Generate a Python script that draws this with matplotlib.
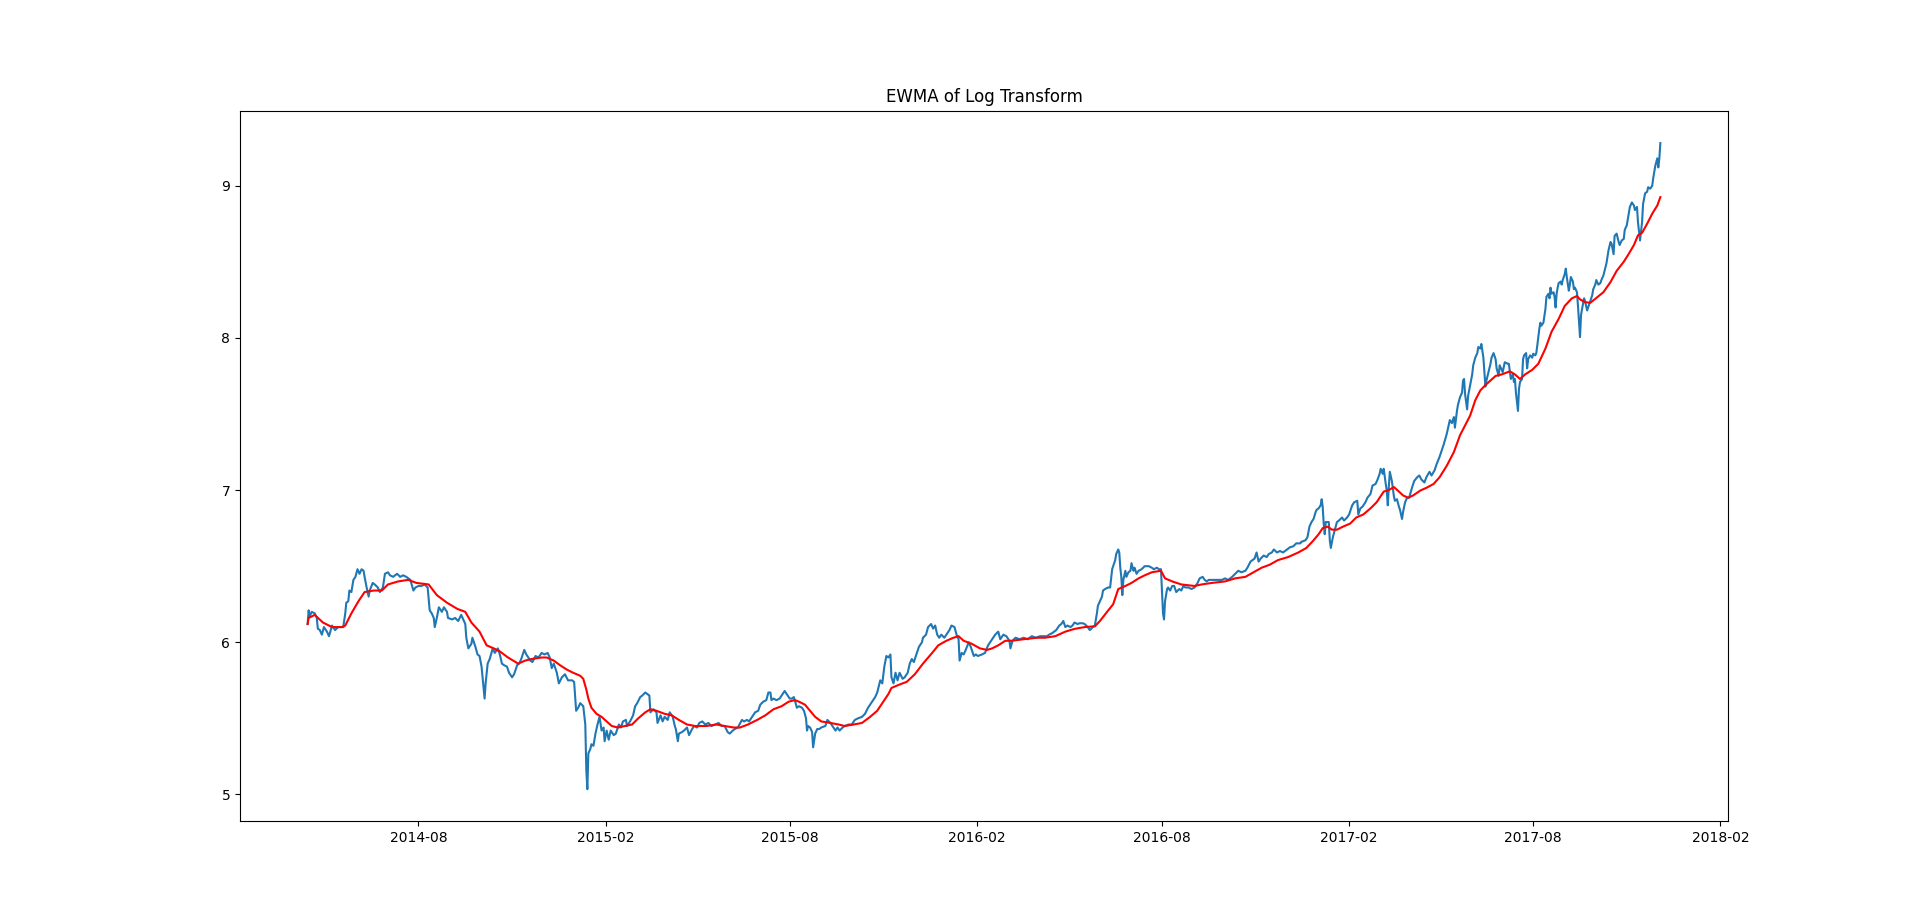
import pandas as pd
import matplotlib
matplotlib.use('Agg')
import matplotlib.pyplot as plt
import matplotlib.dates as mdates


# days counted from 2014-08-01
base_date = '2014-08-01'

price_days = [
    -109, -108, -107, -105, -102, -100, -99, -97, -95, -93, -90, -88, -85, -82, -79, -74,
    -72, -71, -69, -68, -66, -64, -62, -60, -58, -56, -54, -53, -51, -49, -48, -45,
    -43, -40, -38, -35, -33, -30, -28, -25, -21, -18, -15, -12, -8, -5, -3, 0,
    3, 6, 9, 11, 13, 15, 16, 18, 20, 23, 25, 28, 29, 33, 36, 39,
    42, 46, 47, 49, 52, 53, 56, 58, 60, 62, 64, 65, 66, 68, 70, 73,
    75, 78, 80, 82, 84, 87, 89, 92, 94, 97, 99, 101, 104, 106, 110, 112,
    115, 118, 121, 124, 127, 129, 131, 133, 136, 138, 141, 144, 147, 151, 153, 155,
    157, 159, 162, 164, 165, 166, 167, 169, 170, 172, 174, 176, 178, 180, 182, 183,
    185, 187, 189, 192, 194, 197, 199, 201, 204, 205, 208, 211, 213, 215, 218, 220,
    223, 225, 227, 228, 231, 234, 235, 238, 240, 242, 245, 247, 250, 252, 253, 255,
    256, 259, 261, 264, 266, 269, 271, 274, 276, 279, 282, 285, 288, 292, 295, 298,
    301, 304, 306, 309, 311, 314, 318, 320, 323, 325, 328, 331, 334, 336, 339, 342,
    344, 346, 347, 349, 352, 355, 358, 360, 363, 365, 367, 369, 370, 372, 374, 377,
    379, 381, 382, 383, 385, 387, 388, 390, 392, 394, 396, 400, 402, 405, 407, 410,
    412, 414, 417, 419, 423, 426, 429, 432, 436, 439, 442, 446, 449, 451, 454, 456,
    458, 460, 462, 464, 465, 467, 469, 471, 473, 476, 478, 481, 483, 485, 487, 490,
    492, 495, 496, 499, 501, 504, 506, 508, 510, 512, 514, 517, 519, 522, 524, 527,
    529, 531, 532, 534, 536, 538, 541, 543, 546, 548, 550, 554, 557, 560, 564, 567,
    570, 572, 575, 578, 581, 582, 584, 587, 591, 595, 599, 603, 607, 611, 616, 618,
    620, 623, 625, 627, 630, 632, 634, 636, 638, 641, 643, 645, 648, 650, 653, 655,
    658, 660, 663, 665, 667, 668, 670, 672, 673, 675, 678, 680, 682, 683, 685, 686,
    688, 689, 690, 691, 692, 693, 695, 696, 698, 700, 701, 703, 704, 706, 708, 711,
    714, 716, 718, 721, 723, 726, 728, 730, 731, 732, 733, 734, 736, 737, 739, 741,
    743, 745, 748, 750, 752, 754, 757, 760, 763, 766, 768, 771, 773, 775, 777, 780,
    783, 786, 790, 793, 796, 800, 803, 806, 809, 813, 815, 818, 820, 822, 824, 826,
    828, 831, 834, 836, 839, 841, 844, 847, 850, 854, 857, 860, 863, 867, 868, 872,
    874, 876, 878, 880, 882, 883, 885, 887, 888, 889, 890, 891, 892, 895, 896, 897,
    899, 901, 903, 905, 908, 910, 913, 915, 918, 920, 923, 924, 926, 928, 931, 933,
    936, 938, 941, 943, 945, 946, 948, 949, 951, 952, 953, 954, 955, 957, 959, 960,
    962, 964, 965, 967, 968, 970, 972, 974, 977, 979, 982, 984, 986, 989, 991, 994,
    996, 999, 1001, 1004, 1006, 1008, 1011, 1014, 1016, 1018, 1019, 1021, 1022, 1024, 1026, 1027,
    1028, 1029, 1031, 1032, 1034, 1036, 1037, 1039, 1041, 1042, 1044, 1045, 1047, 1049, 1050, 1052,
    1054, 1055, 1057, 1059, 1060, 1062, 1063, 1066, 1068, 1071, 1072, 1074, 1076, 1077, 1078, 1079,
    1081, 1082, 1083, 1085, 1086, 1087, 1089, 1090, 1091, 1093, 1095, 1096, 1098, 1099, 1100, 1102,
    1103, 1104, 1106, 1108, 1109, 1111, 1112, 1113, 1114, 1116, 1117, 1118, 1119, 1120, 1121, 1123,
    1124, 1125, 1127, 1128, 1129, 1131, 1132, 1133, 1135, 1136, 1137, 1139, 1140, 1142, 1143, 1144,
    1146, 1147, 1149, 1150, 1152, 1154, 1155, 1157, 1158, 1160, 1162, 1163, 1165, 1167, 1168, 1170,
    1172, 1173, 1175, 1176, 1178, 1180, 1181, 1183, 1185, 1186, 1188, 1190, 1191, 1193, 1195, 1196,
    1198, 1199, 1201, 1203, 1204, 1206, 1208, 1209, 1211, 1213, 1214, 1216, 1218, 1219, 1220, 1221,
]

log_price = [
    6.12, 6.21, 6.17, 6.20, 6.19, 6.16, 6.09, 6.08, 6.05, 6.10, 6.07, 6.04, 6.11, 6.08, 6.10, 6.10,
    6.19, 6.26, 6.27, 6.34, 6.33, 6.41, 6.43, 6.48, 6.45, 6.48, 6.47, 6.43, 6.36, 6.30, 6.34, 6.39,
    6.38, 6.36, 6.33, 6.36, 6.45, 6.46, 6.44, 6.43, 6.45, 6.43, 6.44, 6.43, 6.41, 6.34, 6.36, 6.37,
    6.37, 6.38, 6.36, 6.21, 6.19, 6.16, 6.10, 6.16, 6.23, 6.20, 6.23, 6.20, 6.16, 6.15, 6.16, 6.14,
    6.18, 6.12, 6.03, 5.96, 5.99, 6.03, 5.97, 5.92, 5.91, 5.84, 5.70, 5.63, 5.73, 5.86, 5.89, 5.96,
    5.93, 5.96, 5.92, 5.86, 5.85, 5.84, 5.80, 5.77, 5.79, 5.85, 5.86, 5.89, 5.95, 5.92, 5.88, 5.87,
    5.91, 5.90, 5.93, 5.92, 5.93, 5.90, 5.83, 5.86, 5.80, 5.73, 5.77, 5.79, 5.75, 5.75, 5.74, 5.55,
    5.57, 5.60, 5.58, 5.46, 5.16, 5.035, 5.27, 5.30, 5.33, 5.32, 5.40, 5.46, 5.51, 5.42, 5.44, 5.35,
    5.42, 5.36, 5.42, 5.39, 5.40, 5.46, 5.44, 5.48, 5.49, 5.45, 5.48, 5.52, 5.58, 5.60, 5.64, 5.65,
    5.67, 5.66, 5.65, 5.54, 5.56, 5.54, 5.47, 5.52, 5.48, 5.51, 5.49, 5.54, 5.51, 5.45, 5.43, 5.35,
    5.40, 5.41, 5.42, 5.44, 5.39, 5.43, 5.45, 5.44, 5.47, 5.48, 5.46, 5.47, 5.45, 5.46, 5.47, 5.45,
    5.45, 5.41, 5.40, 5.42, 5.43, 5.44, 5.49, 5.48, 5.49, 5.48, 5.51, 5.54, 5.55, 5.59, 5.61, 5.62,
    5.67, 5.67, 5.62, 5.63, 5.62, 5.63, 5.66, 5.68, 5.65, 5.63, 5.63, 5.64, 5.62, 5.57, 5.58, 5.57,
    5.55, 5.50, 5.42, 5.45, 5.44, 5.41, 5.31, 5.40, 5.43, 5.43, 5.44, 5.45, 5.49, 5.47, 5.45, 5.42,
    5.44, 5.42, 5.44, 5.45, 5.46, 5.46, 5.49, 5.50, 5.51, 5.53, 5.57, 5.61, 5.64, 5.67, 5.75, 5.73,
    5.84, 5.91, 5.90, 5.92, 5.77, 5.73, 5.80, 5.75, 5.80, 5.76, 5.77, 5.80, 5.86, 5.89, 5.87, 5.93,
    5.97, 6.00, 6.03, 6.05, 6.10, 6.12, 6.09, 6.11, 6.05, 6.03, 6.05, 6.03, 6.05, 6.08, 6.11, 6.10,
    6.05, 6.02, 5.88, 5.93, 5.92, 5.95, 6.00, 5.97, 5.91, 5.92, 5.91, 5.92, 5.93, 5.98, 6.02, 6.05,
    6.07, 6.02, 6.05, 6.04, 6.01, 5.96, 6.01, 6.03, 6.02, 6.03, 6.02, 6.04, 6.03, 6.04, 6.04, 6.04,
    6.05, 6.06, 6.07, 6.08, 6.11, 6.12, 6.14, 6.10, 6.11, 6.10, 6.11, 6.13, 6.12, 6.125, 6.125, 6.12,
    6.10, 6.08, 6.10, 6.11, 6.19, 6.24, 6.27, 6.30, 6.34, 6.35, 6.36, 6.36, 6.48, 6.50, 6.54, 6.58,
    6.61, 6.59, 6.49, 6.43, 6.31, 6.41, 6.47, 6.43, 6.46, 6.47, 6.52, 6.47, 6.49, 6.45, 6.47, 6.48,
    6.50, 6.50, 6.50, 6.49, 6.48, 6.49, 6.48, 6.48, 6.34, 6.19, 6.15, 6.27, 6.35, 6.36, 6.34, 6.37,
    6.37, 6.33, 6.35, 6.34, 6.37, 6.36, 6.36, 6.35, 6.36, 6.39, 6.42, 6.43, 6.41, 6.40, 6.41, 6.41,
    6.41, 6.41, 6.41, 6.42, 6.41, 6.43, 6.45, 6.47, 6.46, 6.47, 6.49, 6.53, 6.54, 6.55, 6.59, 6.53,
    6.55, 6.57, 6.56, 6.58, 6.59, 6.61, 6.59, 6.60, 6.59, 6.61, 6.625, 6.63, 6.65, 6.65, 6.66, 6.67,
    6.69, 6.76, 6.79, 6.81, 6.855, 6.87, 6.88, 6.90, 6.94, 6.89, 6.78, 6.71, 6.79, 6.79, 6.67, 6.62,
    6.69, 6.74, 6.79, 6.80, 6.82, 6.80, 6.82, 6.84, 6.90, 6.92, 6.93, 6.84, 6.88, 6.89, 6.92, 6.95,
    6.975, 7.03, 7.04, 7.07, 7.107, 7.14, 7.107, 7.14, 7.04, 6.997, 6.90, 7.02, 7.12, 7.06, 6.96, 6.93,
    6.94, 6.89, 6.87, 6.81, 6.855, 6.92, 6.95, 6.95, 7.02, 7.06, 7.085, 7.096, 7.07, 7.05, 7.085, 7.12,
    7.096, 7.13, 7.17, 7.22, 7.26, 7.30, 7.37, 7.46, 7.44, 7.48, 7.41, 7.52, 7.56, 7.61, 7.64, 7.72,
    7.73, 7.63, 7.53, 7.62, 7.69, 7.76, 7.82, 7.87, 7.90, 7.94, 7.93, 7.96, 7.87, 7.68, 7.72, 7.775,
    7.83, 7.87, 7.90, 7.86, 7.80, 7.75, 7.82, 7.775, 7.84, 7.83, 7.83, 7.73, 7.76, 7.71, 7.73, 7.64,
    7.52, 7.665, 7.71, 7.73, 7.86, 7.885, 7.90, 7.80, 7.86, 7.885, 7.87, 7.896, 7.885, 7.90, 7.95, 8.06,
    8.10, 8.08, 8.10, 8.19, 8.27, 8.29, 8.26, 8.33, 8.29, 8.30, 8.27, 8.20, 8.29, 8.33, 8.36, 8.37,
    8.35, 8.38, 8.42, 8.455, 8.40, 8.31, 8.35, 8.40, 8.37, 8.32, 8.33, 8.30, 8.21, 8.005, 8.15, 8.19,
    8.26, 8.24, 8.18, 8.20, 8.24, 8.28, 8.32, 8.35, 8.38, 8.35, 8.36, 8.38, 8.41, 8.465, 8.49, 8.575,
    8.63, 8.62, 8.55, 8.67, 8.685, 8.63, 8.61, 8.64, 8.65, 8.71, 8.74, 8.82, 8.86, 8.89, 8.87, 8.84,
    8.86, 8.76, 8.64, 8.76, 8.88, 8.95, 8.96, 8.99, 8.98, 9.00, 9.05, 9.13, 9.18, 9.12, 9.18, 9.28,
]

ewma_days = [
    -109, -108, -102, -94, -85, -75, -72, -66, -59, -53, -44, -36, -30, -20, -10, -2,
    10, 18, 28, 38, 46, 52, 60, 67, 74, 80, 88, 98, 105, 111, 121, 126,
    133, 139, 146, 152, 159, 162, 165, 167, 170, 175, 180, 185, 190, 196, 203, 210,
    216, 223, 228, 234, 242, 249, 256, 264, 272, 283, 293, 301, 310, 316, 324, 333,
    341, 349, 357, 364, 370, 374, 380, 385, 390, 396, 405, 413, 419, 428, 436, 444,
    451, 457, 462, 465, 472, 480, 488, 496, 505, 511, 519, 526, 531, 536, 544, 552,
    559, 564, 570, 577, 583, 595, 608, 616, 626, 636, 645, 655, 665, 670, 677, 683,
    688, 695, 701, 708, 714, 721, 730, 734, 741, 750, 763, 770, 780, 793, 803, 813,
    821, 829, 837, 845, 855, 865, 873, 880, 885, 889, 894, 898, 903, 909, 916, 922,
    929, 936, 942, 949, 954, 959, 964, 968, 973, 978, 985, 991, 998, 1004, 1011, 1018,
    1024, 1029, 1034, 1039, 1044, 1049, 1054, 1059, 1065, 1073, 1078, 1083, 1088, 1095, 1101, 1108,
    1114, 1121, 1127, 1134, 1139, 1142, 1147, 1152, 1157, 1165, 1172, 1178, 1185, 1190, 1195, 1199,
    1203, 1208, 1213, 1218, 1221,
]

ewma_log_price = [
    6.12, 6.16, 6.18, 6.13, 6.10, 6.10, 6.11, 6.19, 6.27, 6.33, 6.34, 6.34, 6.38, 6.40, 6.41, 6.39,
    6.38, 6.31, 6.26, 6.22, 6.20, 6.13, 6.07, 5.98, 5.96, 5.94, 5.90, 5.86, 5.88, 5.89, 5.90, 5.90,
    5.88, 5.85, 5.82, 5.80, 5.78, 5.76, 5.69, 5.63, 5.57, 5.53, 5.51, 5.48, 5.45, 5.44, 5.45, 5.46,
    5.50, 5.54, 5.56, 5.55, 5.53, 5.52, 5.49, 5.46, 5.45, 5.45, 5.46, 5.45, 5.44, 5.44, 5.46, 5.49,
    5.52, 5.56, 5.58, 5.61, 5.62, 5.61, 5.59, 5.55, 5.51, 5.48, 5.47, 5.46, 5.45, 5.46, 5.47, 5.51,
    5.55, 5.61, 5.66, 5.70, 5.72, 5.74, 5.79, 5.86, 5.93, 5.98, 6.01, 6.03, 6.04, 6.01, 5.99, 5.96,
    5.95, 5.96, 5.98, 6.01, 6.01, 6.02, 6.03, 6.03, 6.04, 6.07, 6.088, 6.10, 6.105, 6.14, 6.20, 6.25,
    6.35, 6.37, 6.39, 6.42, 6.44, 6.46, 6.47, 6.42, 6.40, 6.38, 6.37, 6.38, 6.39, 6.40, 6.42, 6.43,
    6.46, 6.49, 6.51, 6.54, 6.56, 6.59, 6.62, 6.67, 6.71, 6.75, 6.76, 6.74, 6.74, 6.76, 6.78, 6.82,
    6.84, 6.88, 6.92, 6.99, 7.00, 7.02, 6.99, 6.965, 6.95, 6.965, 6.997, 7.015, 7.04, 7.085, 7.16, 7.25,
    7.36, 7.425, 7.49, 7.59, 7.655, 7.69, 7.72, 7.75, 7.76, 7.78, 7.76, 7.73, 7.76, 7.79, 7.83, 7.93,
    8.04, 8.125, 8.21, 8.26, 8.275, 8.253, 8.235, 8.23, 8.257, 8.30, 8.367, 8.44, 8.50, 8.553, 8.61, 8.674,
    8.69, 8.75, 8.816, 8.87, 8.925,
]


start = pd.Timestamp(base_date)
price_dates = start + pd.to_timedelta(price_days, unit='D')
ewma_dates = start + pd.to_timedelta(ewma_days, unit='D')

fig, ax = plt.subplots(figsize=(19.2, 9.23), dpi=100)

ax.plot(price_dates, log_price, color='#1f77b4')
ax.plot(ewma_dates, ewma_log_price, color='red')

ax.xaxis.set_major_locator(mdates.MonthLocator(bymonth=[2, 8]))
ax.xaxis.set_major_formatter(mdates.DateFormatter('%Y-%m'))
ax.set_yticks([5, 6, 7, 8, 9])
ax.set_title('EWMA of Log Transform')

fig.savefig('out.png', dpi=100)
